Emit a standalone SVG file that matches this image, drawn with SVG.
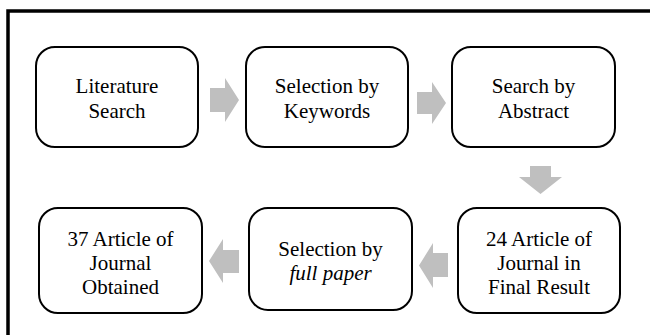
<svg xmlns="http://www.w3.org/2000/svg" width="650" height="335" viewBox="0 0 650 335">
<style>
.frame{fill:none;stroke:#000;stroke-width:3.5}
.box{fill:#fff;stroke:#000;stroke-width:2}
.arr{fill:#bfbfbf;stroke:none}
.t{font-family:'Liberation Serif','Tinos','DejaVu Serif',serif;font-size:21px;fill:#000;text-anchor:middle}
.it{font-style:italic}
</style>
<rect width="650" height="335" fill="#fff"/>
<rect class="frame" x="8" y="11" width="670" height="360"/>
<g id="connectors">
<path class="arr" d="M210,88 H225 V78 L239,100 L225,122 V112 H210 Z"/>
<path class="arr" d="M417,92 H432 V82 L446,103 L432,124 V114 H417 Z"/>
<path class="arr" d="M530,166 H551 V177 H562 L540.5,194 L519,177 H530 Z"/>
<path class="arr" d="M448,253 H433 V243 L419,265.5 L433,288 V277 H448 Z"/>
<path class="arr" d="M239,250 H223 V239 L209,261 L223,283 V273 H239 Z"/>
</g>
<g id="n1">
<rect class="box" x="36" y="47" width="162" height="100" rx="19"/>
<text class="t" font-family="Liberation Serif, serif" x="117" y="93">Literature</text>
<text class="t" font-family="Liberation Serif, serif" x="117" y="118">Search</text>
</g>
<g id="n2">
<rect class="box" x="246" y="47" width="162" height="100" rx="19"/>
<text class="t" font-family="Liberation Serif, serif" x="327" y="93">Selection by</text>
<text class="t" font-family="Liberation Serif, serif" x="327" y="118">Keywords</text>
</g>
<g id="n3">
<rect class="box" x="452" y="47" width="163" height="100" rx="19"/>
<text class="t" font-family="Liberation Serif, serif" x="533.5" y="93">Search by</text>
<text class="t" font-family="Liberation Serif, serif" x="533.5" y="118">Abstract</text>
</g>
<g id="n6">
<rect class="box" x="458" y="208" width="162" height="105" rx="19"/>
<text class="t" font-family="Liberation Serif, serif" x="539" y="246">24 Article of</text>
<text class="t" font-family="Liberation Serif, serif" x="539" y="270">Journal in</text>
<text class="t" font-family="Liberation Serif, serif" x="539" y="294">Final Result</text>
</g>
<g id="n5">
<rect class="box" x="249" y="208" width="163" height="102" rx="19"/>
<text class="t" font-family="Liberation Serif, serif" x="330.5" y="256">Selection by</text>
<text class="t it" font-family="Liberation Serif, serif" x="330.5" y="280">full paper</text>
</g>
<g id="n4">
<rect class="box" x="39" y="208" width="163" height="105" rx="19"/>
<text class="t" font-family="Liberation Serif, serif" x="120.5" y="246">37 Article of</text>
<text class="t" font-family="Liberation Serif, serif" x="120.5" y="270">Journal</text>
<text class="t" font-family="Liberation Serif, serif" x="120.5" y="294">Obtained</text>
</g>
</svg>
